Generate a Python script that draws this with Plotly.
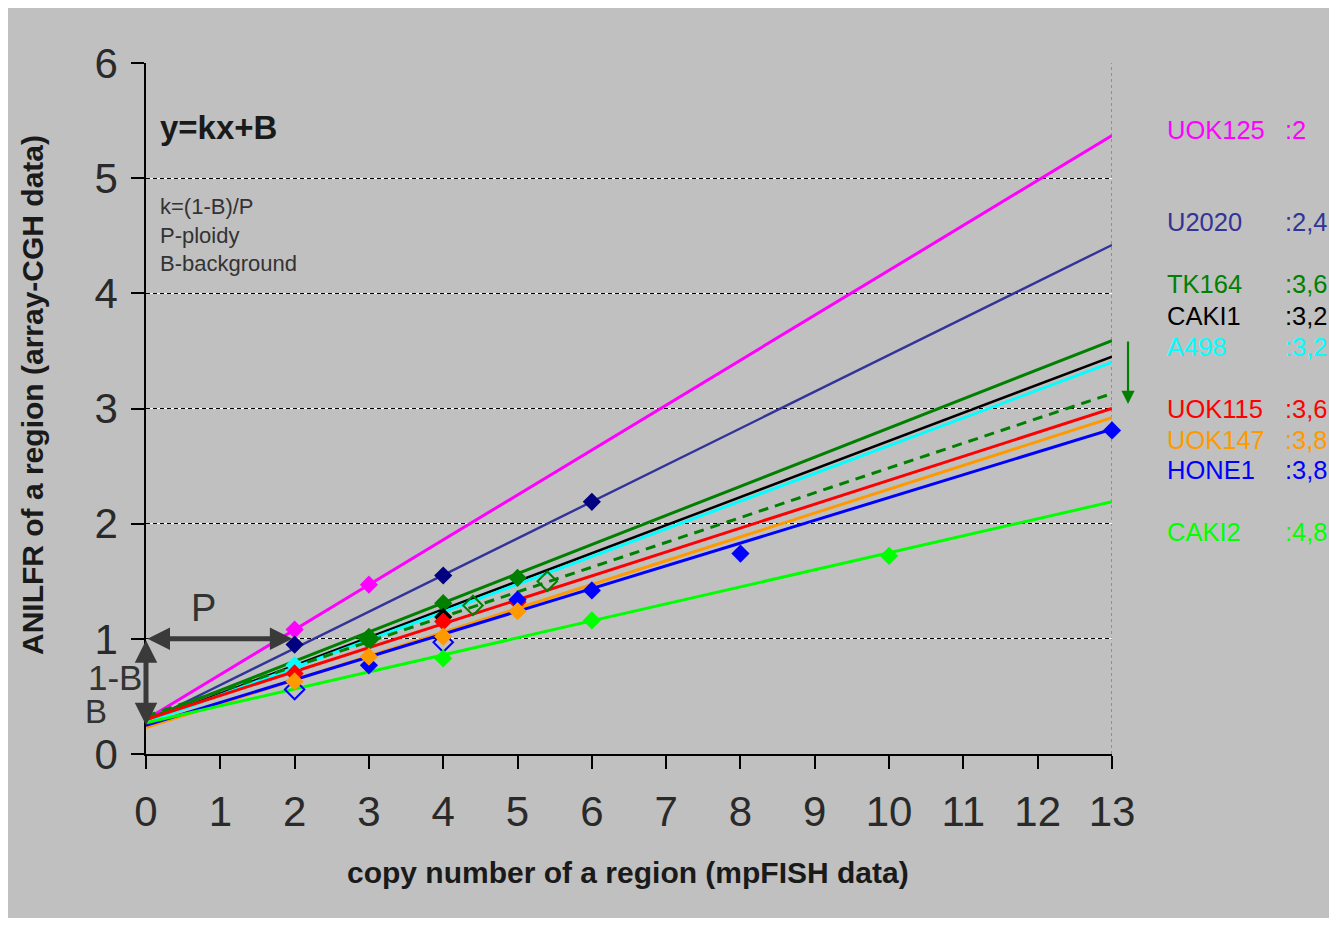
import plotly.graph_objects as go

# ---------------- data ----------------
x_ticks = list(range(0, 14))
y_ticks = list(range(0, 7))

line_names = ["UOK125", "U2020", "TK164", "CAKI1", "A498", "TK164 corr", "UOK115", "UOK147", "HONE1", "CAKI2"]
line_colors = ["#FF00FF", "#333399", "#008000", "#000000", "#00FFFF", "#008000", "#FF0000", "#FF9900", "#0000FF", "#00FF00"]
line_x = [0, 13]
line_start = [0.30, 0.28, 0.30, 0.28, 0.27, 0.33, 0.30, 0.23, 0.25, 0.27]
line_end = [5.37, 4.42, 3.59, 3.45, 3.40, 3.13, 3.00, 2.92, 2.82, 2.19]

uok125_x = [2, 3]
uok125_y = [1.08, 1.47]
u2020_x = [2, 4, 6]
u2020_y = [0.95, 1.55, 2.19]
tk164_x = [3, 4, 5]
tk164_y = [1.00, 1.31, 1.53]
tk164c_x = [3, 4.4, 5.4]
tk164c_y = [1.00, 1.29, 1.50]
caki1_x = [4]
caki1_y = [1.19]
a498_x = [2]
a498_y = [0.77]
uok115_x = [2, 4, 5]
uok115_y = [0.70, 1.15, 1.32]
uok147_x = [2, 3, 4, 5]
uok147_y = [0.63, 0.845, 1.02, 1.24]
hone1_open_x = [2, 4]
hone1_open_y = [0.56, 0.97]
hone1_x = [3, 5, 6, 8, 13]
hone1_y = [0.77, 1.34, 1.42, 1.74, 2.81]
caki2_x = [4, 6, 10]
caki2_y = [0.83, 1.16, 1.72]

label_names = ["UOK125", "U2020", "TK164", "CAKI1", "A498", "UOK115", "UOK147", "HONE1", "CAKI2"]
label_ploidy = [":2", ":2,4", ":3,6", ":3,2", ":3,2", ":3,6", ":3,8", ":3,8", ":4,8"]
label_colors = ["#FF00FF", "#333399", "#008000", "#000000", "#00FFFF", "#FF0000", "#FF9900", "#0000FF", "#00FF00"]
label_y = [5.42, 4.62, 4.08, 3.80, 3.53, 3.00, 2.73, 2.47, 1.93]

# ---------------- figure ----------------
FONT = "Liberation Sans, Arial, sans-serif"
BG = "#C0C0C0"
fig = go.Figure()

widths = [3, 2.4, 3, 2.5, 3, 3, 3, 3, 3, 3]
for name, col, y0, y1, w in zip(line_names, line_colors, line_start, line_end, widths):
    dash = "10px,7px" if name == "TK164 corr" else "solid"
    fig.add_trace(go.Scatter(x=line_x, y=[y0, y1], mode="lines", name=name,
                             line=dict(color=col, width=w, dash=dash),
                             showlegend=False, hoverinfo="skip", cliponaxis=False))

marker_sets = [
    (uok125_x, uok125_y, "#FF00FF", "diamond"),
    (u2020_x, u2020_y, "#000080", "diamond"),
    (tk164c_x, tk164c_y, "#008000", "diamond-open"),
    (tk164_x, tk164_y, "#008000", "diamond"),
    (caki1_x, caki1_y, "#000000", "diamond"),
    (a498_x, a498_y, "#00FFFF", "diamond"),
    (uok115_x, uok115_y, "#FF0000", "diamond"),
    (hone1_open_x, hone1_open_y, "#0000FF", "diamond-open"),
    (hone1_x, hone1_y, "#0000FF", "diamond"),
    (uok147_x, uok147_y, "#FF9900", "diamond"),
    (caki2_x, caki2_y, "#00FF00", "diamond"),
]
for xs, ys, col, sym in marker_sets:
    fig.add_trace(go.Scatter(x=xs, y=ys, mode="markers",
                             marker=dict(symbol=sym, size=14 if sym == "diamond" else 15,
                                         color=col, line=dict(width=2 if sym != "diamond" else 0, color=col)),
                             showlegend=False, cliponaxis=False))

# invisible trace on overlay axis for black dashed grid
fig.add_trace(go.Scatter(x=[0], y=[0], yaxis="y2", mode="markers",
                         marker=dict(opacity=0), showlegend=False, hoverinfo="skip"))

tick_font = dict(family=FONT, size=42, color="#2A2A2A")
fig.update_layout(
    width=1321, height=910,
    paper_bgcolor=BG, plot_bgcolor=BG,
    margin=dict(l=138, r=217, t=55, b=164),
    showlegend=False,
    xaxis=dict(range=[0, 13], tickvals=x_ticks, ticktext=[str(v) for v in x_ticks],
               showgrid=False, zeroline=False, showline=True, linecolor="black", linewidth=1.5,
               ticks="outside", ticklen=13, tickcolor="black", tickwidth=1.5,
               tickfont=tick_font, ticklabelstandoff=7),
    yaxis=dict(range=[0, 6], tickvals=y_ticks, ticktext=[str(v) for v in y_ticks],
               showgrid=True, gridcolor="white", gridwidth=1.2, zeroline=False,
               showline=True, linecolor="black", linewidth=1.5,
               ticks="outside", ticklen=13, tickcolor="black", tickwidth=1.5,
               tickfont=tick_font, ticklabelstandoff=5),
    yaxis2=dict(range=[0, 6], overlaying="y", tickvals=y_ticks[1:], showticklabels=False,
                showgrid=True, gridcolor="black", gridwidth=1.2, griddash="4px,3px",
                zeroline=False, showline=False, ticks=""),
)

# vertical dotted line at right edge
fig.add_shape(type="line", xref="x", yref="paper", x0=13, x1=13, y0=0, y1=1,
              line=dict(color="#808080", width=1.5, dash="dot"), layer="below")

ann = []
# axis titles
ann.append(dict(text="copy number of a region (mpFISH data)", xref="paper", yref="paper",
                x=0.499, y=-0.171, xanchor="center", yanchor="middle", showarrow=False,
                font=dict(family=FONT, size=30, color="#1A1A1A", weight="bold")))
ann.append(dict(text="ANILFR of a region (array-CGH data)", xref="paper", yref="paper",
                x=-0.118, y=0.5195, xanchor="center", yanchor="middle", showarrow=False, textangle=-90,
                font=dict(family=FONT, size=30, color="#1A1A1A", weight="bold")))
# formula texts
ann.append(dict(text="<b>y=kx+B</b>", xref="x", yref="y", x=0.16, y=5.44, xanchor="left",
                yanchor="middle", showarrow=False, font=dict(family=FONT, size=33, color="#1A1A1A")))
ann.append(dict(text="k=(1-B)/P<br>P-ploidy<br>B-background", xref="x", yref="y",
                x=0.16, y=4.505, xanchor="left", yanchor="middle", align="left",
                showarrow=False, font=dict(family=FONT, size=22, color="#333333")))
# arrows P and 1-B
ann.append(dict(x=1.97, y=1, ax=0, ay=1, xref="x", yref="y", axref="x", ayref="y",
                showarrow=True, arrowside="end+start", arrowhead=2, arrowsize=0.9,
                arrowwidth=5, arrowcolor="#3A3A3A", text=""))
ann.append(dict(x=0, y=0.25, ax=0, ay=1, xref="x", yref="y", axref="x", ayref="y",
                showarrow=True, arrowside="end+start", arrowhead=2, arrowsize=0.9,
                arrowwidth=5, arrowcolor="#3A3A3A", text=""))
ann.append(dict(text="P", x=0.77, y=1.27, xref="x", yref="y", showarrow=False,
                xanchor="center", yanchor="middle",
                font=dict(family=FONT, size=38, color="#333333")))
ann.append(dict(text="1-B", x=-0.0021, y=0.665 / 6, xref="paper", yref="paper",
                xanchor="right", yanchor="middle", showarrow=False,
                font=dict(family=FONT, size=35, color="#333333")))
ann.append(dict(text="B", x=-0.038, y=0.37 / 6, xref="paper", yref="paper",
                xanchor="right", yanchor="middle", showarrow=False,
                font=dict(family=FONT, size=33, color="#333333")))
# green arrow (outside the plot area)
ann.append(dict(x=1.0166, y=3.04 / 6, xref="paper", yref="paper", ax=0, ay=-64,
                showarrow=True, arrowhead=2, arrowsize=1.2, arrowwidth=2.2,
                arrowcolor="#008000", text=""))
# right-hand labels
for nm, pl, col, yy in zip(label_names, label_ploidy, label_colors, label_y):
    ann.append(dict(text=nm, xref="paper", yref="paper", x=1.055, y=yy / 6, xanchor="left",
                    yanchor="middle", showarrow=False, font=dict(family=FONT, size=25.5, color=col)))
    ann.append(dict(text=pl, xref="paper", yref="paper", x=1.177, y=yy / 6, xanchor="left",
                    yanchor="middle", showarrow=False, font=dict(family=FONT, size=25.5, color=col)))
fig.update_layout(annotations=ann)

fig.write_html("out.html")
